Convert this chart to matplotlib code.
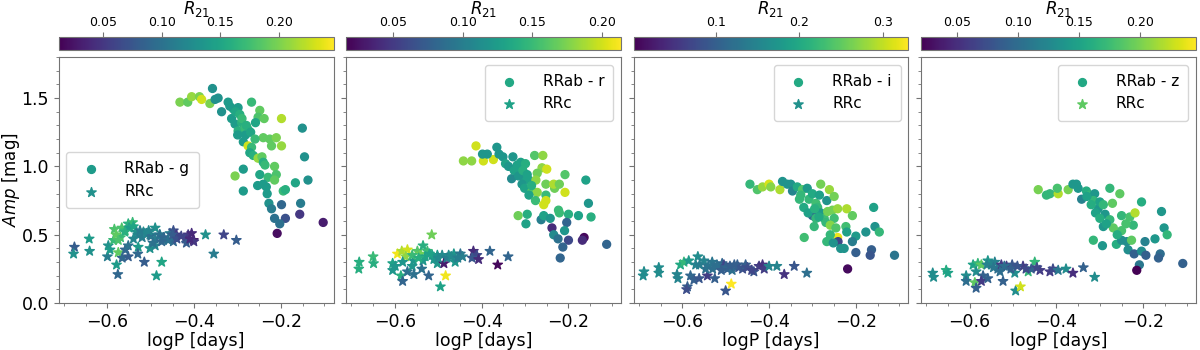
import matplotlib
matplotlib.use("Agg")
import matplotlib.pyplot as plt
from matplotlib.colors import Normalize
from matplotlib.cm import ScalarMappable
from matplotlib.ticker import AutoMinorLocator, MultipleLocator

# ---- g band ----
g_ab_logp = [-0.358, -0.433, -0.415, -0.406, -0.388, -0.383, -0.364, -0.352, -0.345, -0.337,
             -0.322, -0.310, -0.299, -0.268, -0.249, -0.253, -0.239, -0.199, -0.151, -0.146,
             -0.314, -0.306, -0.299, -0.291, -0.283, -0.276, -0.259, -0.282, -0.300, -0.241,
             -0.226, -0.211, -0.222, -0.199, -0.287, -0.276, -0.268, -0.272, -0.264, -0.253,
             -0.244, -0.241, -0.237, -0.287, -0.306, -0.215, -0.249, -0.230, -0.211, -0.215,
             -0.254, -0.241, -0.234, -0.287, -0.167, -0.138, -0.195, -0.190, -0.232, -0.228,
             -0.222, -0.199, -0.155, -0.215, -0.190, -0.157, -0.103, -0.209, -0.203, -0.318,
             -0.305, -0.295, -0.290, -0.280, -0.270, -0.260]
g_ab_amp = [1.57, 1.47, 1.47, 1.51, 1.51, 1.49, 1.46, 1.49, 1.50, 1.40,
            1.47, 1.42, 1.43, 1.47, 1.41, 1.36, 1.35, 1.35, 1.28, 1.07,
            1.35, 1.31, 1.26, 1.32, 1.28, 1.27, 1.32, 1.23, 1.23, 1.21,
            1.20, 1.21, 1.15, 1.15, 1.18, 1.15, 1.14, 1.10, 1.08, 1.06,
            1.07, 1.03, 1.01, 0.98, 0.93, 1.00, 0.94, 0.92, 0.94, 0.90,
            0.86, 0.87, 0.85, 0.82, 0.88, 0.90, 0.82, 0.83, 0.80, 0.73,
            0.69, 0.72, 0.73, 0.62, 0.62, 0.65, 0.59, 0.51, 0.58, 1.44,
            1.40, 1.38, 1.35, 1.30, 1.25, 1.20]
g_ab_r21 = [0.13, 0.20, 0.19, 0.21, 0.20, 0.23, 0.20, 0.13, 0.13, 0.13,
            0.14, 0.15, 0.14, 0.17, 0.19, 0.18, 0.19, 0.22, 0.13, 0.13,
            0.14, 0.14, 0.16, 0.16, 0.17, 0.17, 0.15, 0.14, 0.14, 0.19,
            0.19, 0.20, 0.19, 0.21, 0.14, 0.23, 0.17, 0.15, 0.16, 0.21,
            0.19, 0.16, 0.17, 0.14, 0.20, 0.19, 0.15, 0.17, 0.18, 0.19,
            0.14, 0.14, 0.14, 0.14, 0.15, 0.13, 0.17, 0.16, 0.14, 0.13,
            0.11, 0.09, 0.11, 0.10, 0.07, 0.05, 0.03, 0.02, 0.10, 0.14,
            0.15, 0.16, 0.17, 0.16, 0.15, 0.17]
g_c_logp = [-0.676, -0.678, -0.642, -0.641, -0.600, -0.598, -0.594, -0.586, -0.584, -0.575,
            -0.579, -0.576, -0.567, -0.559, -0.552, -0.542, -0.566, -0.552, -0.559, -0.552,
            -0.540, -0.533, -0.529, -0.530, -0.515, -0.517, -0.502, -0.490, -0.502, -0.490,
            -0.487, -0.475, -0.479, -0.471, -0.456, -0.448, -0.448, -0.441, -0.421, -0.418,
            -0.414, -0.406, -0.402, -0.401, -0.374, -0.355, -0.332, -0.303, -0.530, -0.520,
            -0.510, -0.500, -0.490, -0.480, -0.470, -0.460, -0.450, -0.550, -0.560, -0.570,
            -0.580, -0.575, -0.540, -0.525, -0.505, -0.495, -0.475, -0.440, -0.430, -0.410]
g_c_amp = [0.41, 0.36, 0.47, 0.38, 0.34, 0.42, 0.39, 0.46, 0.54, 0.37,
           0.28, 0.21, 0.55, 0.53, 0.58, 0.59, 0.33, 0.34, 0.39, 0.42,
           0.47, 0.52, 0.41, 0.36, 0.30, 0.52, 0.50, 0.55, 0.40, 0.42,
           0.20, 0.30, 0.50, 0.46, 0.51, 0.53, 0.45, 0.50, 0.47, 0.44,
           0.50, 0.51, 0.46, 0.45, 0.50, 0.36, 0.50, 0.46, 0.50, 0.48,
           0.51, 0.49, 0.47, 0.50, 0.48, 0.46, 0.50, 0.55, 0.52, 0.48,
           0.50, 0.46, 0.56, 0.53, 0.53, 0.44, 0.45, 0.47, 0.49, 0.47]
g_c_r21 = [0.08, 0.13, 0.14, 0.13, 0.11, 0.13, 0.14, 0.17, 0.18, 0.19,
           0.14, 0.09, 0.18, 0.17, 0.16, 0.17, 0.09, 0.08, 0.09, 0.10,
           0.12, 0.13, 0.14, 0.09, 0.08, 0.13, 0.12, 0.13, 0.13, 0.12,
           0.14, 0.15, 0.12, 0.11, 0.11, 0.07, 0.09, 0.05, 0.07, 0.08,
           0.05, 0.04, 0.03, 0.05, 0.13, 0.11, 0.06, 0.08, 0.12, 0.11,
           0.12, 0.10, 0.11, 0.10, 0.09, 0.10, 0.08, 0.14, 0.16, 0.17,
           0.19, 0.18, 0.15, 0.11, 0.12, 0.10, 0.09, 0.07, 0.06, 0.04]
g_r21_range = (0.012, 0.247)

# ---- r band ----
r_ab_logp = [-0.413, -0.442, -0.423, -0.396, -0.373, -0.398, -0.387, -0.365, -0.360, -0.351,
             -0.345, -0.328, -0.331, -0.318, -0.310, -0.299, -0.278, -0.259, -0.261, -0.250,
             -0.272, -0.314, -0.303, -0.291, -0.275, -0.307, -0.301, -0.284, -0.272, -0.291,
             -0.276, -0.252, -0.252, -0.257, -0.252, -0.232, -0.234, -0.221, -0.208, -0.208,
             -0.160, -0.154, -0.316, -0.295, -0.298, -0.263, -0.257, -0.242, -0.223, -0.221,
             -0.200, -0.177, -0.148, -0.204, -0.238, -0.209, -0.234, -0.224, -0.200, -0.164,
             -0.168, -0.213, -0.112, -0.219, -0.338, -0.325, -0.315, -0.305, -0.295, -0.285]
r_ab_amp = [1.15, 1.04, 1.04, 1.04, 1.05, 1.09, 1.09, 1.14, 1.09, 1.07,
            1.02, 1.07, 0.91, 1.01, 1.03, 1.02, 1.08, 1.08, 0.99, 0.98,
            0.95, 0.95, 0.92, 0.90, 0.90, 0.87, 0.84, 0.82, 0.81, 0.79,
            0.75, 0.79, 0.75, 0.72, 0.87, 0.84, 0.87, 0.87, 0.81, 0.94,
            0.90, 0.73, 0.64, 0.65, 0.58, 0.61, 0.64, 0.62, 0.68, 0.66,
            0.65, 0.64, 0.63, 0.59, 0.55, 0.53, 0.50, 0.47, 0.46, 0.48,
            0.46, 0.41, 0.43, 0.33, 1.00, 0.97, 0.93, 0.97, 0.94, 0.86]
r_ab_r21 = [0.20, 0.18, 0.18, 0.20, 0.20, 0.12, 0.12, 0.12, 0.12, 0.12,
            0.13, 0.12, 0.11, 0.13, 0.13, 0.14, 0.16, 0.18, 0.18, 0.20,
            0.17, 0.13, 0.13, 0.13, 0.18, 0.12, 0.13, 0.16, 0.18, 0.13,
            0.15, 0.15, 0.20, 0.20, 0.17, 0.17, 0.19, 0.17, 0.20, 0.16,
            0.13, 0.12, 0.17, 0.14, 0.13, 0.10, 0.13, 0.12, 0.15, 0.15,
            0.14, 0.13, 0.14, 0.08, 0.04, 0.12, 0.11, 0.09, 0.06, 0.02,
            0.04, 0.08, 0.08, 0.08, 0.12, 0.13, 0.12, 0.14, 0.13, 0.14]
r_c_logp = [-0.682, -0.683, -0.650, -0.649, -0.594, -0.605, -0.605, -0.599, -0.586, -0.582,
            -0.584, -0.571, -0.575, -0.582, -0.571, -0.557, -0.560, -0.556, -0.548, -0.541,
            -0.535, -0.535, -0.538, -0.525, -0.522, -0.515, -0.514, -0.502, -0.502, -0.495,
            -0.491, -0.487, -0.483, -0.476, -0.464, -0.461, -0.449, -0.444, -0.419, -0.415,
            -0.411, -0.422, -0.407, -0.381, -0.363, -0.339, -0.530, -0.510, -0.500, -0.480,
            -0.470, -0.455, -0.560, -0.545, -0.520]
r_c_amp = [0.30, 0.25, 0.34, 0.29, 0.36, 0.29, 0.24, 0.27, 0.20, 0.16,
           0.38, 0.39, 0.34, 0.30, 0.23, 0.31, 0.27, 0.21, 0.38, 0.36,
           0.42, 0.31, 0.25, 0.38, 0.20, 0.50, 0.35, 0.35, 0.29, 0.12,
           0.35, 0.29, 0.20, 0.35, 0.36, 0.30, 0.36, 0.34, 0.38, 0.34,
           0.35, 0.33, 0.32, 0.38, 0.28, 0.34, 0.34, 0.32, 0.33, 0.33,
           0.34, 0.33, 0.35, 0.33, 0.36]
r_c_r21 = [0.14, 0.14, 0.15, 0.14, 0.21, 0.13, 0.12, 0.12, 0.14, 0.08,
           0.19, 0.20, 0.18, 0.12, 0.09, 0.12, 0.12, 0.09, 0.16, 0.17,
           0.14, 0.12, 0.09, 0.15, 0.08, 0.17, 0.13, 0.12, 0.12, 0.13,
           0.11, 0.03, 0.21, 0.11, 0.12, 0.12, 0.09, 0.10, 0.04, 0.05,
           0.06, 0.07, 0.04, 0.08, 0.02, 0.08, 0.13, 0.12, 0.11, 0.10,
           0.11, 0.10, 0.15, 0.14, 0.13]
r_r21_range = (0.016, 0.214)

# ---- i band ----
i_ab_logp = [-0.444, -0.427, -0.415, -0.400, -0.396, -0.375, -0.369, -0.358, -0.350, -0.346,
             -0.335, -0.323, -0.327, -0.312, -0.308, -0.300, -0.292, -0.288, -0.281, -0.284,
             -0.267, -0.261, -0.250, -0.300, -0.292, -0.281, -0.273, -0.296, -0.319, -0.265,
             -0.254, -0.242, -0.221, -0.208, -0.250, -0.269, -0.259, -0.246, -0.223, -0.242,
             -0.241, -0.259, -0.267, -0.252, -0.235, -0.221, -0.200, -0.208, -0.227, -0.200,
             -0.177, -0.159, -0.156, -0.146, -0.164, -0.167, -0.111, -0.219, -0.320, -0.310,
             -0.295, -0.285, -0.330]
i_ab_amp = [0.87, 0.83, 0.85, 0.87, 0.85, 0.83, 0.89, 0.87, 0.87, 0.82,
            0.85, 0.83, 0.79, 0.84, 0.76, 0.80, 0.73, 0.70, 0.87, 0.79,
            0.75, 0.83, 0.78, 0.64, 0.62, 0.66, 0.62, 0.56, 0.48, 0.67,
            0.68, 0.69, 0.69, 0.64, 0.62, 0.59, 0.57, 0.55, 0.56, 0.48,
            0.45, 0.50, 0.45, 0.44, 0.40, 0.52, 0.49, 0.45, 0.40, 0.37,
            0.52, 0.70, 0.56, 0.52, 0.39, 0.35, 0.35, 0.25, 0.70, 0.66,
            0.69, 0.63, 0.76]
i_ab_r21 = [0.22, 0.24, 0.28, 0.31, 0.27, 0.29, 0.17, 0.17, 0.17, 0.15,
            0.20, 0.24, 0.22, 0.18, 0.22, 0.20, 0.23, 0.22, 0.26, 0.19,
            0.17, 0.28, 0.26, 0.11, 0.22, 0.18, 0.23, 0.22, 0.23, 0.26,
            0.26, 0.28, 0.29, 0.25, 0.23, 0.22, 0.27, 0.24, 0.23, 0.32,
            0.07, 0.22, 0.22, 0.17, 0.17, 0.19, 0.18, 0.14, 0.17, 0.10,
            0.17, 0.19, 0.17, 0.22, 0.10, 0.09, 0.13, 0.01, 0.20, 0.19,
            0.21, 0.20, 0.22]
i_c_logp = [-0.688, -0.690, -0.654, -0.654, -0.612, -0.610, -0.604, -0.596, -0.588, -0.590,
            -0.585, -0.581, -0.569, -0.573, -0.561, -0.564, -0.550, -0.542, -0.546, -0.531,
            -0.525, -0.519, -0.508, -0.504, -0.500, -0.496, -0.485, -0.487, -0.473, -0.461,
            -0.454, -0.435, -0.423, -0.415, -0.411, -0.400, -0.382, -0.365, -0.342, -0.313,
            -0.560, -0.540, -0.520, -0.500, -0.490, -0.470, -0.450, -0.440, -0.530, -0.510,
            -0.480]
i_c_amp = [0.23, 0.20, 0.26, 0.22, 0.21, 0.18, 0.28, 0.30, 0.12, 0.10,
           0.31, 0.20, 0.28, 0.17, 0.18, 0.34, 0.31, 0.20, 0.25, 0.30,
           0.18, 0.27, 0.29, 0.28, 0.09, 0.25, 0.24, 0.14, 0.28, 0.25,
           0.28, 0.23, 0.27, 0.28, 0.25, 0.27, 0.27, 0.21, 0.27, 0.22,
           0.28, 0.27, 0.28, 0.26, 0.27, 0.26, 0.26, 0.24, 0.25, 0.24,
           0.28]
i_c_r21 = [0.16, 0.16, 0.16, 0.16, 0.15, 0.15, 0.20, 0.22, 0.10, 0.08,
           0.18, 0.11, 0.15, 0.10, 0.09, 0.16, 0.15, 0.06, 0.12, 0.13,
           0.10, 0.13, 0.11, 0.07, 0.09, 0.10, 0.12, 0.33, 0.10, 0.08,
           0.10, 0.09, 0.06, 0.05, 0.06, 0.15, 0.15, 0.05, 0.09, 0.12,
           0.14, 0.13, 0.12, 0.11, 0.10, 0.09, 0.08, 0.07, 0.12, 0.10,
           0.10]
i_r21_range = (0.002, 0.33)

# ---- z band ----
z_ab_logp = [-0.442, -0.423, -0.415, -0.396, -0.398, -0.373, -0.362, -0.354, -0.350, -0.342,
             -0.331, -0.323, -0.312, -0.315, -0.304, -0.300, -0.292, -0.277, -0.271, -0.288,
             -0.277, -0.254, -0.250, -0.231, -0.219, -0.292, -0.269, -0.250, -0.223, -0.204,
             -0.158, -0.152, -0.145, -0.173, -0.196, -0.315, -0.294, -0.262, -0.250, -0.238,
             -0.227, -0.235, -0.221, -0.204, -0.194, -0.161, -0.165, -0.209, -0.215, -0.109,
             -0.330, -0.320, -0.310, -0.300, -0.285, -0.260, -0.240]
z_ab_amp = [0.83, 0.79, 0.80, 0.80, 0.84, 0.83, 0.87, 0.87, 0.84, 0.76,
            0.82, 0.79, 0.80, 0.75, 0.69, 0.74, 0.72, 0.84, 0.73, 0.65,
            0.61, 0.80, 0.64, 0.63, 0.66, 0.56, 0.55, 0.53, 0.57, 0.74,
            0.67, 0.55, 0.50, 0.47, 0.45, 0.46, 0.42, 0.43, 0.46, 0.45,
            0.46, 0.39, 0.36, 0.38, 0.35, 0.36, 0.33, 0.28, 0.24, 0.29,
            0.78, 0.72, 0.66, 0.62, 0.58, 0.50, 0.58]
z_ab_r21 = [0.20, 0.17, 0.17, 0.22, 0.18, 0.20, 0.14, 0.14, 0.14, 0.12,
            0.16, 0.17, 0.14, 0.17, 0.14, 0.15, 0.17, 0.17, 0.19, 0.14,
            0.17, 0.19, 0.17, 0.18, 0.22, 0.14, 0.19, 0.18, 0.17, 0.16,
            0.14, 0.14, 0.17, 0.14, 0.12, 0.17, 0.14, 0.16, 0.13, 0.13,
            0.19, 0.13, 0.09, 0.13, 0.09, 0.10, 0.09, 0.11, 0.02, 0.09,
            0.15, 0.16, 0.15, 0.16, 0.15, 0.16, 0.18]
z_c_logp = [-0.685, -0.683, -0.654, -0.650, -0.608, -0.608, -0.592, -0.588, -0.585, -0.581,
            -0.573, -0.585, -0.569, -0.573, -0.558, -0.550, -0.558, -0.542, -0.535, -0.527,
            -0.523, -0.515, -0.502, -0.496, -0.494, -0.483, -0.477, -0.465, -0.450, -0.458,
            -0.438, -0.415, -0.408, -0.396, -0.378, -0.362, -0.338, -0.312, -0.560, -0.545,
            -0.520, -0.505, -0.490, -0.470, -0.445, -0.530]
z_c_amp = [0.22, 0.19, 0.24, 0.22, 0.20, 0.16, 0.28, 0.15, 0.11, 0.29,
           0.28, 0.23, 0.20, 0.16, 0.31, 0.28, 0.18, 0.30, 0.25, 0.28,
           0.16, 0.27, 0.28, 0.22, 0.09, 0.12, 0.27, 0.23, 0.30, 0.25,
           0.24, 0.23, 0.25, 0.24, 0.25, 0.22, 0.26, 0.19, 0.28, 0.26,
           0.27, 0.25, 0.27, 0.25, 0.26, 0.23]
z_c_r21 = [0.13, 0.13, 0.16, 0.15, 0.13, 0.10, 0.15, 0.19, 0.09, 0.17,
           0.19, 0.13, 0.09, 0.06, 0.14, 0.13, 0.09, 0.12, 0.10, 0.06,
           0.09, 0.06, 0.08, 0.13, 0.13, 0.23, 0.06, 0.17, 0.17, 0.09,
           0.06, 0.06, 0.07, 0.11, 0.13, 0.05, 0.09, 0.13, 0.12, 0.11,
           0.10, 0.09, 0.08, 0.07, 0.07, 0.10]
z_r21_range = (0.0205, 0.246)

# colour of the legend markers (R21 value) for RRab / RRc
legend_r21 = {"g": (0.14, 0.13), "r": (0.135, 0.13), "i": (0.20, 0.166), "z": (0.156, 0.19)}
# colorbar tick spacing per band
cbar_step = {"g": 0.05, "r": 0.05, "i": 0.1, "z": 0.05}

panels = [
    ("g", g_ab_logp, g_ab_amp, g_ab_r21, g_c_logp, g_c_amp, g_c_r21, g_r21_range),
    ("r", r_ab_logp, r_ab_amp, r_ab_r21, r_c_logp, r_c_amp, r_c_r21, r_r21_range),
    ("i", i_ab_logp, i_ab_amp, i_ab_r21, i_c_logp, i_c_amp, i_c_r21, i_r21_range),
    ("z", z_ab_logp, z_ab_amp, z_ab_r21, z_c_logp, z_c_amp, z_c_r21, z_r21_range),
]

cmap = plt.get_cmap("viridis")
fig = plt.figure(figsize=(12, 3.5), dpi=100)

lefts = [0.049, 0.2885, 0.528, 0.7675]
width = 0.229
frame = "0.45"

for k, (band, ab_x, ab_y, ab_c, c_x, c_y, c_c, rng) in enumerate(panels):
    ax = fig.add_axes([lefts[k], 0.134, width, 0.703])
    cax = fig.add_axes([lefts[k], 0.857, width, 0.037])
    norm = Normalize(vmin=rng[0], vmax=rng[1])

    ax.scatter(ab_x, ab_y, c=ab_c, cmap=cmap, norm=norm, s=32, marker="o",
               label=f"RRab - {band}")
    ax.scatter(c_x, c_y, c=c_c, cmap=cmap, norm=norm, s=50, marker="*",
               label="RRc")

    ax.set_xlim(-0.712, -0.079)
    ax.set_ylim(0.0, 1.8)
    ax.set_xticks([-0.6, -0.4, -0.2])
    ax.set_yticks([0.0, 0.5, 1.0, 1.5])
    ax.xaxis.set_minor_locator(AutoMinorLocator(4))
    ax.yaxis.set_minor_locator(AutoMinorLocator(5))
    ax.tick_params(which="both", color=frame, labelsize=12.5)
    for sp in ax.spines.values():
        sp.set_color(frame)
    ax.set_xlabel("logP [days]", fontsize=12.5, labelpad=1)
    if k == 0:
        ax.set_ylabel(r"$Amp$ [mag]", fontsize=12, labelpad=0)
    else:
        ax.tick_params(labelleft=False)

    leg = ax.legend(loc="center left" if k == 0 else "upper right",
                    fontsize=11, handletextpad=1.2, borderpad=0.6)
    for h, v in zip(leg.legend_handles, legend_r21[band]):
        h.set_array(None)
        h.set_facecolor(cmap(norm(v)))
        h.set_edgecolor(cmap(norm(v)))

    cb = fig.colorbar(ScalarMappable(norm=norm, cmap=cmap), cax=cax,
                      orientation="horizontal")
    cb.locator = MultipleLocator(cbar_step[band])
    cb.update_ticks()
    cax.xaxis.set_ticks_position("top")
    cax.xaxis.set_label_position("top")
    cax.tick_params(labelsize=9, color=frame, pad=2)
    cb.outline.set_edgecolor(frame)
    cb.set_label(r"$R_{21}$", fontsize=12, labelpad=2)

fig.savefig("out.png", dpi=100)
